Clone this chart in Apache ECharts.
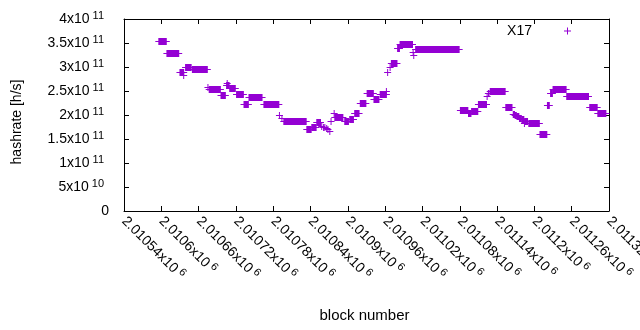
<!DOCTYPE html>
<html>
<head>
<meta charset="utf-8">
<title>X17 hashrate</title>
<script src="https://cdn.jsdelivr.net/npm/echarts@6.0.0/dist/echarts.min.js"></script>
<style>
html, body { margin: 0; padding: 0; background: #fff; }
#main { width: 640px; height: 330px; }
</style>
</head>
<body>
<div id="main"></div>
<script>
// runs of blocks with (nearly) the same hashrate; from == to is a single point
var blockFrom = [2010596, 2010609, 2010630, 2010636, 2010639, 2010650, 2010675, 2010677, 2010696, 2010705,
    2010706, 2010710, 2010721, 2010733, 2010741, 2010765, 2010790, 2010794, 2010797, 2010834,
    2010842, 2010850, 2010858, 2010861, 2010863, 2010866, 2010868, 2010871, 2010873, 2010878,
    2010879, 2010895, 2010903, 2010911, 2010920, 2010931, 2010942, 2010952, 2010962, 2010964,
    2010968, 2010970, 2010980, 2010984, 2011005, 2011006, 2011009, 2011081, 2011094, 2011099,
    2011110, 2011124, 2011126, 2011129, 2011154, 2011166, 2011169, 2011172, 2011176, 2011180,
    2011184, 2011185, 2011191, 2011209, 2011221, 2011226, 2011230, 2011252, 2011289, 2011302];
var blockTo = [2010608, 2010628, 2010636, 2010636, 2010648, 2010674, 2010675, 2010695, 2010703, 2010709,
    2010706, 2010719, 2010732, 2010740, 2010762, 2010789, 2010790, 2010794, 2010833, 2010841,
    2010849, 2010856, 2010858, 2010861, 2010863, 2010866, 2010868, 2010871, 2010873, 2010878,
    2010892, 2010901, 2010909, 2010918, 2010929, 2010941, 2010950, 2010962, 2010962, 2010964,
    2010968, 2010979, 2010983, 2011004, 2011005, 2011006, 2011079, 2011093, 2011098, 2011109,
    2011123, 2011124, 2011127, 2011153, 2011164, 2011168, 2011171, 2011175, 2011179, 2011183,
    2011184, 2011189, 2011208, 2011220, 2011224, 2011229, 2011251, 2011287, 2011301, 2011315];
var hashrate = [3.535e11, 3.285e11, 2.906e11, 2.83e11, 3.01e11, 2.952e11, 2.59e11, 2.535e11, 2.41e11, 2.615e11,
    2.66e11, 2.556e11, 2.43e11, 2.223e11, 2.37e11, 2.223e11, 2.0e11, 1.93e11, 1.875e11, 1.70e11,
    1.756e11, 1.854e11, 1.78e11, 1.76e11, 1.74e11, 1.72e11, 1.70e11, 1.67e11, 1.875e11, 2.04e11,
    1.965e11, 1.885e11, 1.91e11, 2.05e11, 2.244e11, 2.465e11, 2.34e11, 2.44e11, 2.5e11, 2.9e11,
    2.99e11, 3.09e11, 3.40e11, 3.475e11, 3.31e11, 3.24e11, 3.37e11, 2.10e11, 2.05e11, 2.08e11,
    2.235e11, 2.40e11, 2.46e11, 2.51e11, 2.16e11, 2.03e11, 2.0e11, 1.97e11, 1.94e11, 1.91e11,
    1.84e11, 1.88e11, 1.827e11, 1.60e11, 2.20e11, 2.46e11, 2.535e11, 2.40e11, 2.16e11, 2.04e11];

// tick labels (mantissa x10^exp)
var xTickMant = ['2.01054', '2.0106', '2.01066', '2.01072', '2.01078', '2.01084', '2.0109',
    '2.01096', '2.01102', '2.01108', '2.01114', '2.0112', '2.01126', '2.01132'];
var yTickMant = ['0', '5', '1', '1.5', '2', '2.5', '3', '3.5', '4'];
var yTickExp = ['', '10', '11', '11', '11', '11', '11', '11', '11'];

var xMin = 2010540, xMax = 2011320, xStep = 60;
var yMax = 4e11, yStep = 5e10;
var purple = '#9400d3';
var font = 'Liberation Sans, Arial, sans-serif';

var data = [];
for (var i = 0; i < blockFrom.length; i++) {
    data.push([blockFrom[i], blockTo[i], hashrate[i]]);
}

// gnuplot style '+' points: a run of them melts into a filled bar
function renderItem(params, api) {
    var p0 = api.coord([api.value(0), api.value(2)]);
    var p1 = api.coord([api.value(1), api.value(2)]);
    var cy = Math.round(p0[1]);
    var h = 3;
    return {
        type: 'group',
        children: [
            {
                type: 'rect',
                shape: { x: p0[0] - 0.5, y: cy - h, width: p1[0] - p0[0] + 1, height: 2 * h + 1 },
                style: { fill: purple }
            },
            {
                type: 'line',
                shape: { x1: p0[0] - h - 0.5, y1: cy + 0.5, x2: p1[0] + h + 0.5, y2: cy + 0.5 },
                style: { stroke: purple, lineWidth: 1 }
            }
        ]
    };
}

var axisLine = { show: true, onZero: false, lineStyle: { color: '#000', width: 1 } };
var axisTick = { show: true, inside: true, length: 5, lineStyle: { color: '#000' } };

var myChart = echarts.init(document.getElementById('main'));
var option = {
    animation: false,
    backgroundColor: '#fff',
    textStyle: { fontFamily: font },
    grid: { left: 124, right: 31, top: 19, bottom: 119, containLabel: false, outerBoundsMode: 'none' },
    legend: {
        data: [{ name: 'X17', icon: 'path://M0,3L3,3L3,0L4,0L4,3L7,3L7,4L4,4L4,7L3,7L3,4L0,4Z' }],
        align: 'right',
        right: 69,
        top: 24,
        padding: 0,
        itemWidth: 7,
        itemHeight: 7,
        textStyle: { fontSize: 14, color: '#000', fontFamily: font, padding: [0, 27, 0, 0] }
    },
    xAxis: [
        {
            type: 'value',
            position: 'bottom',
            min: xMin,
            max: xMax,
            interval: xStep,
            name: 'block number',
            nameLocation: 'middle',
            nameGap: 97,
            nameTextStyle: { fontSize: 15, color: '#000', fontFamily: font, padding: [0, 4, 0, 0] },
            axisLine: axisLine,
            axisTick: axisTick,
            splitLine: { show: false },
            axisLabel: {
                rotate: -45,
                margin: 8,
                color: '#000',
                hideOverlap: false,
                formatter: function (v) {
                    var i = Math.round((v - xMin) / xStep);
                    return '{m|' + xTickMant[i] + 'x10}{e|6}';
                },
                rich: {
                    m: { fontSize: 14, color: '#000', fontFamily: font },
                    e: { fontSize: 11, color: '#000', fontFamily: font, padding: [0, 0, 7, 3] }
                }
            }
        },
        {
            type: 'value',
            position: 'top',
            min: xMin,
            max: xMax,
            interval: xStep,
            axisLine: axisLine,
            axisTick: axisTick,
            axisLabel: { show: false },
            splitLine: { show: false }
        }
    ],
    yAxis: [
        {
            type: 'value',
            position: 'left',
            min: 0,
            max: yMax,
            interval: yStep,
            name: 'hashrate [h/s]',
            nameLocation: 'middle',
            nameGap: 100,
            nameTextStyle: { fontSize: 14, color: '#000', fontFamily: font, padding: [0, 14, 0, 0] },
            axisLine: axisLine,
            axisTick: axisTick,
            splitLine: { show: false },
            axisLabel: {
                margin: 15,
                color: '#000',
                formatter: function (v) {
                    var i = Math.round(v / yStep);
                    if (yTickExp[i] === '') return '{m|' + yTickMant[i] + '}';
                    return '{m|' + yTickMant[i] + 'x10}{e|' + yTickExp[i] + '}';
                },
                rich: {
                    m: { fontSize: 14, color: '#000', fontFamily: font },
                    e: { fontSize: 11, color: '#000', fontFamily: font, padding: [0, 5, 7, 3] }
                }
            }
        },
        {
            type: 'value',
            position: 'right',
            min: 0,
            max: yMax,
            interval: yStep,
            axisLine: axisLine,
            axisTick: axisTick,
            axisLabel: { show: false },
            splitLine: { show: false }
        }
    ],
    series: [
        {
            name: 'X17',
            type: 'custom',
            renderItem: renderItem,
            itemStyle: { color: purple },
            encode: { x: [0, 1], y: 2 },
            clip: false,
            data: data
        }
    ]
};
myChart.setOption(option);
</script>
</body>
</html>
